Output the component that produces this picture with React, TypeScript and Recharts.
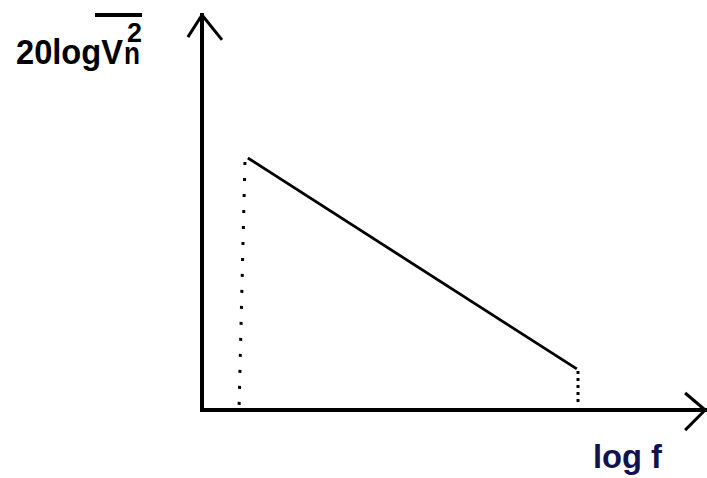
import React from 'react';
import { LineChart, Line, XAxis, YAxis, ReferenceLine } from 'recharts';

// noise spectrum: 20log(Vn^2) against log f, falling straight between two corner frequencies
const noiseCurve = [
  { logF: 9.4, level: 63.8 },
  { logF: 76.8, level: 10.4 },
];

// dotted drops from the curve ends to the frequency axis
const lowerDrop = [
  { logF: 8.8, level: 62.8 },
  { logF: 7.6, level: 1.0 },
];
const upperDrop = [
  { logF: 77.05, level: 9.9 },
  { logF: 77.05, level: 1.3 },
];

// axis ends and arrow heads
const yAxisEnd = { logF: 0, level: 100 };
const xAxisEnd = { logF: 103.1, level: 0 };
const yArrowBarbs = [
  { logF: -2.9, level: 94.4 },
  { logF: 4.1, level: 93.7 },
];
const xArrowBarbs = [
  { logF: 99.0, level: 4.3 },
  { logF: 99.0, level: -5.1 },
];

const yLabel = '20logV';
const yLabelTail = 'n';
const yLabelPower = '2';
const xLabel = 'log f';

const WIDTH = 707;
const HEIGHT = 478;

const seg = (a: { logF: number; level: number }, b: { logF: number; level: number }) => [
  { x: a.logF, y: a.level },
  { x: b.logF, y: b.level },
];

export default function App() {
  const origin = { logF: 0, level: 0 };
  return (
    <div style={{ position: 'absolute', left: 0, top: 0, width: WIDTH, height: HEIGHT, background: '#fff' }}>
      <LineChart
        width={WIDTH}
        height={HEIGHT}
        margin={{ top: 15, right: 17, bottom: 68, left: 202 }}
        style={{ fontFamily: '"Liberation Sans", Arial, sans-serif' }}
      >
        <XAxis type="number" dataKey="logF" domain={[0, 100]} hide allowDataOverflow />
        <YAxis type="number" dataKey="level" domain={[0, 100]} hide allowDataOverflow />

        <ReferenceLine segment={seg(origin, yAxisEnd)} stroke="#000" strokeWidth={4} strokeLinecap="square" ifOverflow="visible" />
        <ReferenceLine segment={seg(origin, xAxisEnd)} stroke="#000" strokeWidth={4} strokeLinecap="square" ifOverflow="visible" />
        {yArrowBarbs.map((b, i) => (
          <ReferenceLine key={`ya${i}`} segment={seg(b, yAxisEnd)} stroke="#000" strokeWidth={3} ifOverflow="visible" />
        ))}
        {xArrowBarbs.map((b, i) => (
          <ReferenceLine key={`xa${i}`} segment={seg(b, xAxisEnd)} stroke="#000" strokeWidth={3} ifOverflow="visible" />
        ))}

        <Line
          data={lowerDrop}
          dataKey="level"
          stroke="#000"
          strokeWidth={3}
          strokeDasharray="3 13"
          dot={false}
          isAnimationActive={false}
        />
        <Line
          data={upperDrop}
          dataKey="level"
          stroke="#000"
          strokeWidth={3}
          strokeDasharray="3 4"
          dot={false}
          isAnimationActive={false}
        />
        <Line
          data={noiseCurve}
          dataKey="level"
          stroke="#000"
          strokeWidth={2.8}
          dot={false}
          isAnimationActive={false}
        />

        {/* y label: 20log of Vn squared, overline across V, n and the power */}
        <text fontWeight="bold" fill="#000">
          <tspan x={16} y={64} fontSize={35} textLength={107} lengthAdjust="spacingAndGlyphs">
            {yLabel}
          </tspan>
          <tspan x={124} y={64} fontSize={31} textLength={16} lengthAdjust="spacingAndGlyphs">
            {yLabelTail}
          </tspan>
          <tspan x={127} y={42} fontSize={28} textLength={15} lengthAdjust="spacingAndGlyphs">
            {yLabelPower}
          </tspan>
        </text>
        <line x1={95} y1={15} x2={142} y2={15} stroke="#000" strokeWidth={4} />

        <text x={593} y={468} fontSize={33} fontWeight="bold" fill="#12124e" textLength={69} lengthAdjust="spacingAndGlyphs">
          {xLabel}
        </text>
      </LineChart>
    </div>
  );
}
